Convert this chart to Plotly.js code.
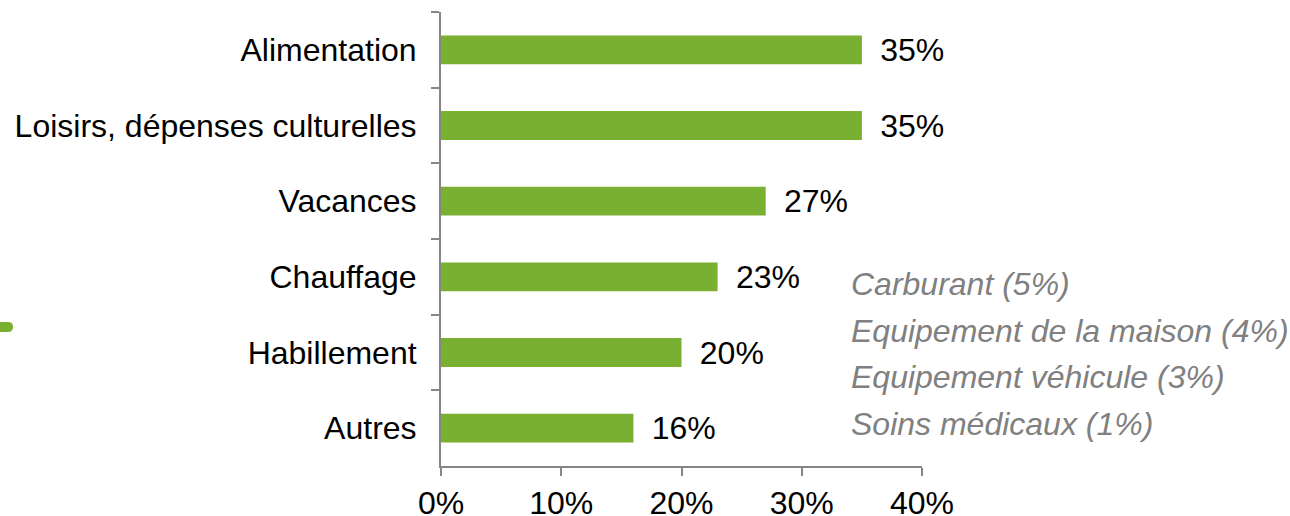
<!DOCTYPE html>
<html>
<head>
<meta charset="utf-8">
<script src="https://cdn.plot.ly/plotly-3.0.1.min.js"></script>
<style>
  html, body { margin: 0; padding: 0; background: #fff; }
  #chart { width: 1290px; height: 516px; }
</style>
</head>
<body>
<div id="chart"></div>
<script>
// postes de dépenses, du haut vers le bas
var categories = ["Alimentation", "Loisirs, dépenses culturelles", "Vacances", "Chauffage", "Habillement", "Autres"];
var values = [35, 35, 27, 23, 20, 16];

// détail de "Autres"
var autresLabels = ["Carburant", "Equipement de la maison", "Equipement véhicule", "Soins médicaux"];
var autresValues = [5, 4, 3, 1];

var green = "#7AB031";
var grey = "#868686";
var fontFam = "Liberation Sans, Arial, sans-serif";

// zone de tracé en pixels
var L = 441, R = 368, T = 12, B = 50;
var plotW = 1290 - L - R;
var plotH = 516 - T - B;
function px(x) { return (x - L) / plotW; }
function py(y) { return (516 - B - y) / plotH; }

var trace = {
    type: "bar",
    orientation: "h",
    y: categories,
    x: values,
    marker: { color: green },
    text: values.map(function (v) { return "\u00a0\u2009" + v + "%"; }),
    textposition: "outside",
    constraintext: "none",
    textfont: { family: fontFam, size: 32, color: "#000" },
    cliponaxis: false,
    hoverinfo: "none"
};

var annotations = autresLabels.map(function (l, i) {
    return {
        xref: "paper", yref: "paper",
        x: px(849), xanchor: "left",
        y: py(284 + i * 46.5), yanchor: "middle",
        text: l + " (" + autresValues[i] + "%)",
        showarrow: false,
        align: "left",
        font: { family: fontFam, size: 32, color: "#808080", style: "italic" }
    };
});

var layout = {
    width: 1290,
    height: 516,
    margin: { l: L, r: R, t: T, b: B },
    paper_bgcolor: "#fff",
    plot_bgcolor: "#fff",
    showlegend: false,
    bargap: 0.62,
    font: { family: fontFam, size: 32, color: "#000" },
    xaxis: {
        range: [0, 40],
        dtick: 10,
        ticksuffix: "%",
        showgrid: false,
        zeroline: false,
        showline: true,
        linecolor: grey,
        linewidth: 2,
        ticks: "outside",
        ticklen: 8,
        tickwidth: 2,
        tickcolor: grey,
        tickfont: { family: fontFam, size: 32, color: "#000" },
        ticklabelstandoff: 0,
        fixedrange: true
    },
    yaxis: {
        autorange: "reversed",
        showgrid: false,
        zeroline: false,
        showline: true,
        linecolor: grey,
        linewidth: 2,
        ticks: "outside",
        tickson: "boundaries",
        ticklen: 8,
        tickwidth: 2,
        tickcolor: grey,
        tickfont: { family: fontFam, size: 32, color: "#000" },
        ticklabelstandoff: 16,
        fixedrange: true
    },
    annotations: annotations,
    shapes: [{
        type: "path",
        xref: "paper", yref: "paper",
        path: "M " + px(0) + "," + py(322) + " L " + px(8) + "," + py(322) +
              " Q " + px(13) + "," + py(322) + " " + px(13) + "," + py(327) +
              " Q " + px(13) + "," + py(332) + " " + px(8) + "," + py(332) +
              " L " + px(0) + "," + py(332) + " Z",
        fillcolor: green,
        line: { width: 0 }
    }]
};

Plotly.newPlot("chart", [trace], layout, { displayModeBar: false, staticPlot: true });
</script>
</body>
</html>
